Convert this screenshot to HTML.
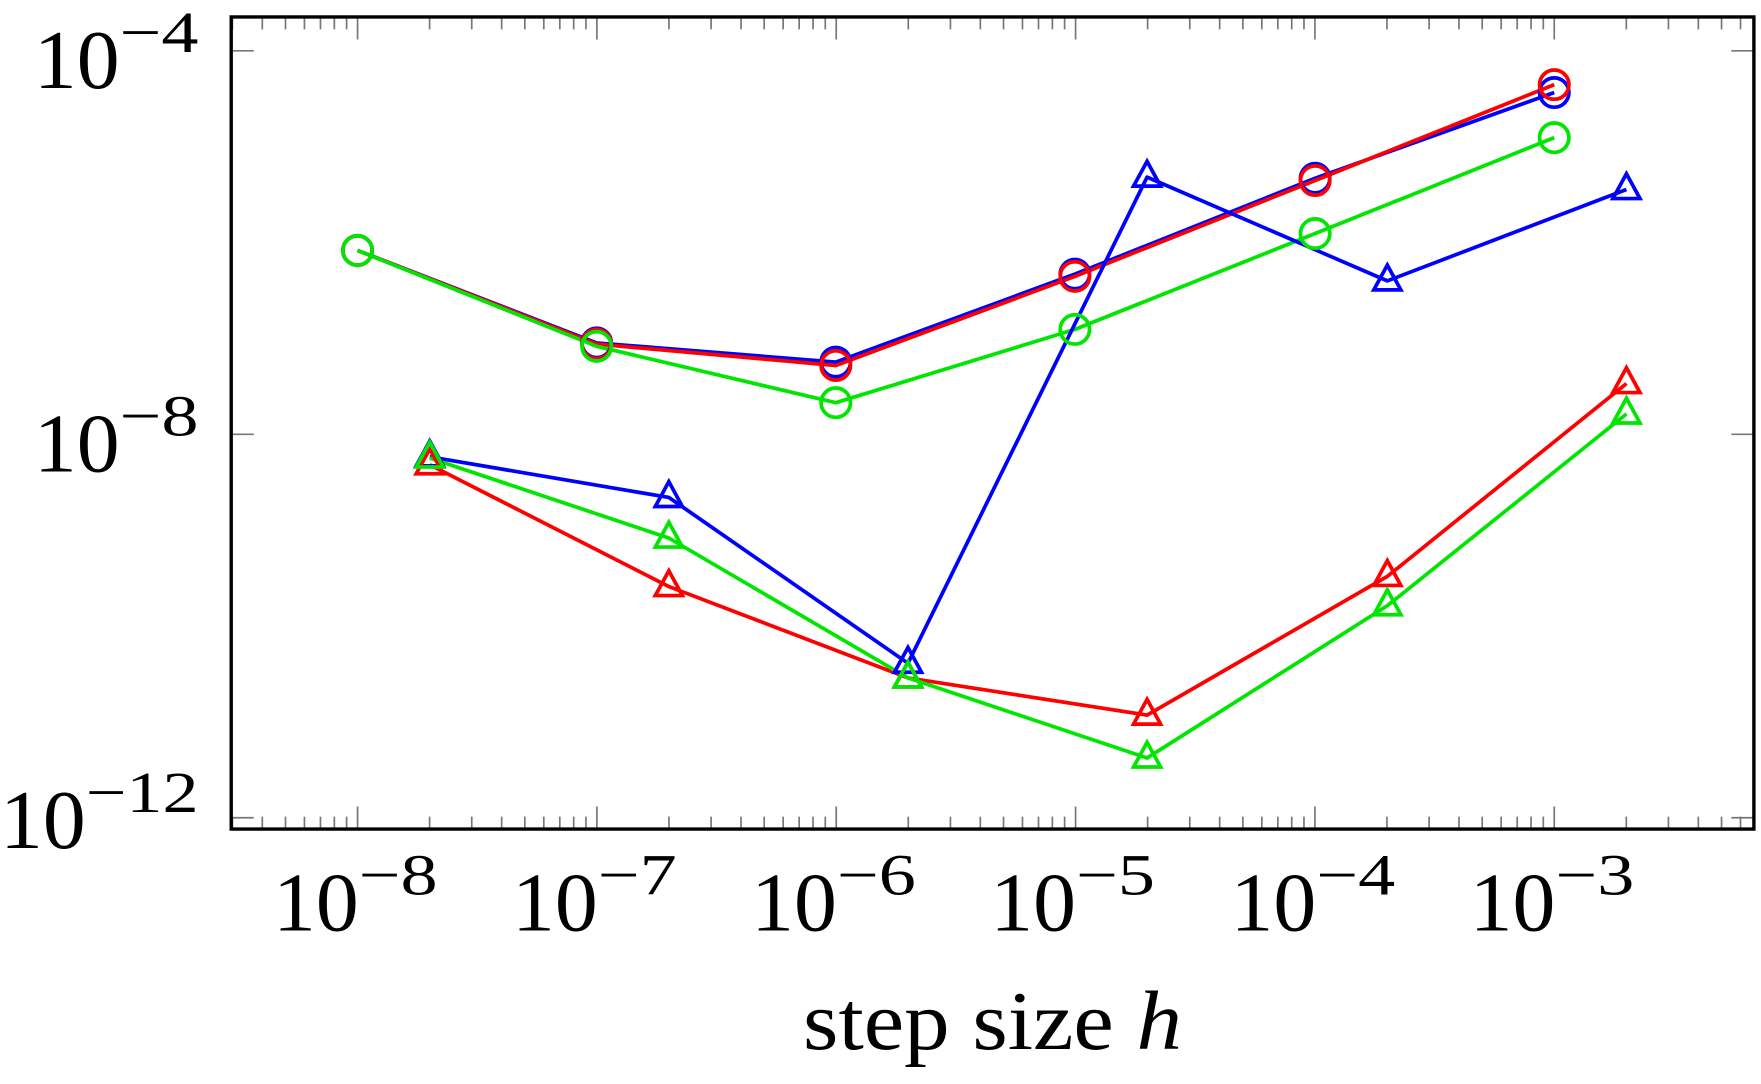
<!DOCTYPE html>
<html><head><style>html,body{margin:0;padding:0;background:#fff}svg{display:block}</style></head>
<body>
<svg id="s" width="1761" height="1084" viewBox="0 0 1561.3 961" xmlns="http://www.w3.org/2000/svg" font-family="Liberation Serif, serif">
<rect x="0" y="0" width="1561.3" height="961" fill="#fff"/>
<g id="ticks" stroke="#777" stroke-width="1.5"></g>
<g fill="none" stroke-width="3.3" stroke-linejoin="round">
<polyline stroke="#0000ff" points="317,222 529,304 741,321 953,243 1166,158 1378,82"/>
<polyline stroke="#ff0000" points="317,222 529,305 741,324 953,245 1166,160 1378,75"/>
<polyline stroke="#00e600" points="317,222 529,307 741,357 953,292 1166,207 1378,122"/>
<polyline stroke="#0000ff" points="381,405 593,441 805,588 1017,157 1230,249 1442,168"/>
<polyline stroke="#ff0000" points="381,412 593,520 805,601 1017,634 1230,511 1442,340"/>
<polyline stroke="#00e600" points="381,406 593,477 805,601 1017,672 1230,537 1442,367"/>
</g>
<g id="marks" fill="none" stroke-width="3.3"></g>
<rect x="205" y="15" width="1350" height="720" fill="none" stroke="#000" stroke-width="3"/>
<g font-size="74" fill="#000">
<text x="242" y="825" textLength="76" lengthAdjust="spacingAndGlyphs">10</text><text x="318" y="793" font-size="52" textLength="70" lengthAdjust="spacingAndGlyphs">−8</text>
<text x="454" y="825" textLength="76" lengthAdjust="spacingAndGlyphs">10</text><text x="530" y="793" font-size="52" textLength="70" lengthAdjust="spacingAndGlyphs">−7</text>
<text x="666" y="825" textLength="76" lengthAdjust="spacingAndGlyphs">10</text><text x="742" y="793" font-size="52" textLength="70" lengthAdjust="spacingAndGlyphs">−6</text>
<text x="878" y="825" textLength="76" lengthAdjust="spacingAndGlyphs">10</text><text x="954" y="793" font-size="52" textLength="70" lengthAdjust="spacingAndGlyphs">−5</text>
<text x="1091" y="825" textLength="76" lengthAdjust="spacingAndGlyphs">10</text><text x="1167" y="793" font-size="52" textLength="70" lengthAdjust="spacingAndGlyphs">−4</text>
<text x="1303" y="825" textLength="76" lengthAdjust="spacingAndGlyphs">10</text><text x="1379" y="793" font-size="52" textLength="70" lengthAdjust="spacingAndGlyphs">−3</text>
<text x="30" y="78" textLength="76" lengthAdjust="spacingAndGlyphs">10</text><text x="106" y="46" font-size="52" textLength="70" lengthAdjust="spacingAndGlyphs">−4</text>
<text x="30" y="418" textLength="76" lengthAdjust="spacingAndGlyphs">10</text><text x="106" y="386" font-size="52" textLength="70" lengthAdjust="spacingAndGlyphs">−8</text>
<text x="0" y="752" textLength="76" lengthAdjust="spacingAndGlyphs">10</text><text x="76" y="720" font-size="52" textLength="100" lengthAdjust="spacingAndGlyphs">−12</text>
<text x="712" y="930" textLength="336" lengthAdjust="spacingAndGlyphs">step size <tspan font-style="italic">h</tspan></text>
</g>
</svg>
<script>
var ns="http://www.w3.org/2000/svg";
function el(p,t,a){var e=document.createElementNS(ns,t);for(var k in a)e.setAttribute(k,a[k]);p.appendChild(e);return e;}
var T=document.getElementById("ticks");
function X(l){return 317+(l+8)*212.2;}
for(var d=-9;d<=-2;d++){for(var m=1;m<=9;m++){var x=X(d+Math.log10(m));if(x<206||x>1554)continue;var L=m==1?20:11;
el(T,"line",{x1:x,y1:15,x2:x,y2:15+L});el(T,"line",{x1:x,y1:735,x2:x,y2:735-L});}}
[45,385,725].forEach(function(y){el(T,"line",{x1:205,y1:y,x2:225,y2:y});el(T,"line",{x1:1555,y1:y,x2:1535,y2:y});});
var M=document.getElementById("marks");
function circ(pts,c){pts.forEach(function(p){el(M,"circle",{cx:p[0],cy:p[1],r:13,stroke:c});});}
function tri(pts,c){pts.forEach(function(p){var x=p[0],y=p[1];el(M,"polygon",{points:(x-12)+","+(y+8)+" "+(x+12)+","+(y+8)+" "+x+","+(y-14),stroke:c});});}
circ([[317,222],[529,304],[741,321],[953,243],[1166,158],[1378,82]],"#0000ff");
circ([[317,222],[529,305],[741,324],[953,245],[1166,160],[1378,75]],"#ff0000");
circ([[317,222],[529,307],[741,357],[953,292],[1166,207],[1378,122]],"#00e600");
tri([[381,405],[593,441],[805,588],[1017,157],[1230,249],[1442,168]],"#0000ff");
tri([[381,412],[593,520],[805,601],[1017,634],[1230,511],[1442,340]],"#ff0000");
tri([[381,406],[593,477],[805,601],[1017,672],[1230,537],[1442,367]],"#00e600");
</script>
</body></html>
